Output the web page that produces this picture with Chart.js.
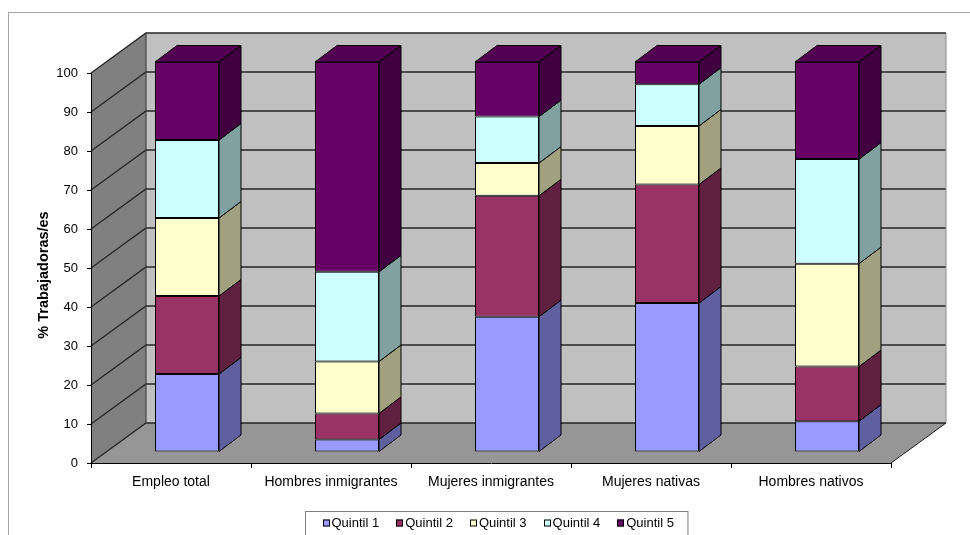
<!DOCTYPE html>
<html>
<head>
<meta charset="utf-8">
<script src="https://cdn.jsdelivr.net/npm/chart.js@4.4.1/dist/chart.umd.min.js"></script>
<style>
  html, body { margin: 0; padding: 0; background: #ffffff; }
  #wrap { width: 970px; height: 535px; }
</style>
</head>
<body>
<div id="wrap"><canvas id="c" width="970" height="535"></canvas></div>
<script>
// Shares of workers by earnings quintil (%)
const categories = ['Empleo total', 'Hombres inmigrantes', 'Mujeres inmigrantes', 'Mujeres nativas', 'Hombres nativos'];
const quintil1 = [20, 3.2, 34.7, 38.2, 7.9];
const quintil2 = [20, 6.7, 31.0, 30.4, 14.0];
const quintil3 = [20, 13.3, 8.4, 15.0, 26.4];
const quintil4 = [20, 23.0, 11.9, 10.7, 26.8];
const quintil5 = [20, 53.8, 14.0, 5.7, 24.9];
const seriesLabels = ['Quintil 1', 'Quintil 2', 'Quintil 3', 'Quintil 4', 'Quintil 5'];
const seriesColors = ['#9999FF', '#993366', '#FFFFCC', '#CCFFFF', '#660066'];
const yTickValues = [0, 10, 20, 30, 40, 50, 60, 70, 80, 90, 100];

const FONT = '"Liberation Sans", Arial, Helvetica, sans-serif';

// oblique 3D geometry (pixels)
const WALL_DX = 55, WALL_DY = 40;   // depth of the walls / floor
const BAR_DX = 16, BAR_DY = 11;     // where the bar front faces sit in depth
const SIDE_DX = 22, SIDE_DY = 16.5; // depth of each bar
const TITLE_SHIFT = 7;              // axis title sits a little below the axis middle

function shade(hex, f) {
  const n = parseInt(hex.slice(1), 16);
  const r = Math.round(((n >> 16) & 255) * f);
  const g = Math.round(((n >> 8) & 255) * f);
  const b = Math.round((n & 255) * f);
  return `rgb(${r},${g},${b})`;
}

function poly(ctx, pts) {
  ctx.beginPath();
  ctx.moveTo(pts[0][0], pts[0][1]);
  for (let i = 1; i < pts.length; i++) ctx.lineTo(pts[i][0], pts[i][1]);
  ctx.closePath();
}

// walls, floor and gridlines of the 3D box
const wallsPlugin = {
  id: 'walls',
  beforeDraw(chart) {
    const { ctx, chartArea: a, scales: { y } } = chart;
    ctx.save();
    // outer chart frame
    ctx.strokeStyle = '#a6a6a6';
    ctx.lineWidth = 1;
    ctx.strokeRect(8.5, 12.5, chart.width + 40, chart.height + 40);

    const bl = a.left + WALL_DX, bt = a.top - WALL_DY, br = a.right + WALL_DX, bb = a.bottom - WALL_DY;
    // back wall
    ctx.fillStyle = '#c0c0c0';
    ctx.fillRect(bl, bt, br - bl, bb - bt);
    // left wall
    ctx.fillStyle = '#808080';
    poly(ctx, [[a.left, a.top], [bl, bt], [bl, bb], [a.left, a.bottom]]);
    ctx.fill();
    // floor
    ctx.fillStyle = '#969696';
    poly(ctx, [[a.left, a.bottom], [a.right, a.bottom], [br, bb], [bl, bb]]);
    ctx.fill();

    // gridlines: diagonal across the left wall, horizontal on the back wall
    ctx.strokeStyle = '#262626';
    ctx.lineWidth = 1.3;
    y.ticks.forEach(t => {
      const py = y.getPixelForValue(t.value);
      ctx.beginPath();
      ctx.moveTo(a.left, py);
      ctx.lineTo(bl, py - WALL_DY);
      ctx.lineTo(br, py - WALL_DY);
      ctx.stroke();
    });
    // back wall right edge
    ctx.strokeStyle = '#8c8c8c';
    ctx.lineWidth = 1;
    ctx.beginPath();
    ctx.moveTo(br, bt);
    ctx.lineTo(br, bb);
    ctx.stroke();
    // left wall back edge
    ctx.strokeStyle = '#333333';
    ctx.beginPath();
    ctx.moveTo(bl, bt);
    ctx.lineTo(bl, bb);
    ctx.stroke();
    // floor right edge
    ctx.strokeStyle = '#1a1a1a';
    ctx.beginPath();
    ctx.moveTo(a.right, a.bottom);
    ctx.lineTo(br, bb);
    ctx.stroke();
    ctx.restore();
  },
  beforeDatasetsDraw(chart) {
    chart.ctx.save();
    chart.ctx.translate(BAR_DX, -BAR_DY);
  },
  afterDatasetsDraw(chart) {
    const ctx = chart.ctx;
    const n = chart.data.labels.length;
    ctx.lineWidth = 1;
    ctx.strokeStyle = '#000000';
    ctx.lineJoin = 'round';
    for (let i = 0; i < n; i++) {
      let topEl = null, topIdx = -1;
      chart.data.datasets.forEach((ds, d) => {
        const meta = chart.getDatasetMeta(d);
        const el = meta.data[i];
        if (!el || !ds.data[i]) return;
        const { x, y, base, width } = el.getProps(['x', 'y', 'base', 'width'], true);
        const r = x + width / 2;
        ctx.fillStyle = shade(seriesColors[d], 0.63);
        poly(ctx, [[r, y], [r + SIDE_DX, y - SIDE_DY], [r + SIDE_DX, base - SIDE_DY], [r, base]]);
        ctx.fill();
        ctx.stroke();
        topEl = { x, y, width };
        topIdx = d;
      });
      if (topEl) {
        const l = topEl.x - topEl.width / 2, r = topEl.x + topEl.width / 2, y = topEl.y;
        ctx.fillStyle = shade(seriesColors[topIdx], 0.8);
        poly(ctx, [[l, y], [r, y], [r + SIDE_DX, y - SIDE_DY], [l + SIDE_DX, y - SIDE_DY]]);
        ctx.fill();
        ctx.stroke();
      }
    }
    ctx.restore();
  }
};

// nudge the y axis title down while the axis draws it
const titleShiftPlugin = {
  id: 'titleShift',
  afterLayout(chart) {
    const y = chart.scales.y;
    if (y._titleShiftWrapped) return;
    const orig = y.drawTitle.bind(y);
    y.drawTitle = function () {
      const ctx = this.ctx;
      ctx.save();
      ctx.translate(0, TITLE_SHIFT);
      orig();
      ctx.restore();
    };
    y._titleShiftWrapped = true;
  }
};

// boxed legend under the plot
const legendPlugin = {
  id: 'boxLegend',
  afterDraw(chart) {
    const ctx = chart.ctx;
    const items = chart.data.datasets;
    ctx.save();
    ctx.font = '13px ' + FONT;
    const sq = 7, gapText = 2, gapItem = 17, padL = 17, padR = 14;
    const widths = items.map(ds => sq + gapText + ctx.measureText(ds.label).width);
    const total = widths.reduce((s, w) => s + w, 0) + gapItem * (items.length - 1) + padL + padR;
    const cx = 496;
    const left = Math.round(cx - total / 2) + 0.5;
    const top = 511.5;
    ctx.strokeStyle = '#7f7f7f';
    ctx.lineWidth = 1;
    ctx.strokeRect(left, top, total, 40);
    let x = left + padL;
    const cy = 523;
    items.forEach((ds, i) => {
      ctx.fillStyle = ds.backgroundColor;
      ctx.fillRect(Math.round(x), cy - 3.5, sq, sq);
      ctx.strokeStyle = '#000000';
      ctx.strokeRect(Math.round(x) + 0.5, cy - 3, sq - 1, sq - 1);
      ctx.fillStyle = '#000000';
      ctx.textBaseline = 'middle';
      ctx.textAlign = 'left';
      ctx.fillText(ds.label, x + sq + gapText, cy);
      x += widths[i] + gapItem;
    });
    ctx.restore();
  }
};

const seriesData = [quintil1, quintil2, quintil3, quintil4, quintil5];

new Chart(document.getElementById('c'), {
  type: 'bar',
  data: {
    labels: categories,
    datasets: seriesData.map((vals, i) => ({
      label: seriesLabels[i],
      data: vals,
      backgroundColor: seriesColors[i],
      borderColor: '#000000',
      borderWidth: 1,
      borderSkipped: false,
      barPercentage: 0.4,
      categoryPercentage: 1.0,
      clip: false
    }))
  },
  options: {
    responsive: false,
    devicePixelRatio: 1,
    animation: false,
    layout: { padding: { left: 0, right: 79, top: 73, bottom: 32 } },
    plugins: {
      legend: { display: false },
      tooltip: { enabled: false },
      title: { display: false }
    },
    scales: {
      x: {
        stacked: true,
        grid: { display: true, drawOnChartArea: false, drawTicks: true, tickLength: 5, offset: true, color: '#000000' },
        border: { display: true, color: '#000000', width: 1 },
        ticks: { color: '#000000', font: { family: FONT, size: 14 }, padding: 6, maxRotation: 0, autoSkip: false },
        afterFit(scale) { scale.height = 40; }
      },
      y: {
        stacked: true,
        min: 0,
        max: 100,
        afterBuildTicks(scale) { scale.ticks = yTickValues.map(v => ({ value: v })); },
        grid: { display: true, drawOnChartArea: false, drawTicks: true, tickLength: 4, color: '#000000' },
        border: { display: true, color: '#000000', width: 1 },
        ticks: { color: '#000000', font: { family: FONT, size: 13 }, padding: 9 },
        title: {
          display: true,
          text: '% Trabajadoras/es',
          color: '#000000',
          font: { family: FONT, size: 14.5, weight: 'bold' },
          padding: { top: 35, bottom: 0 }
        },
        afterFit(scale) { scale.width = 91; }
      }
    }
  },
  plugins: [wallsPlugin, titleShiftPlugin, legendPlugin]
});
</script>
</body>
</html>
